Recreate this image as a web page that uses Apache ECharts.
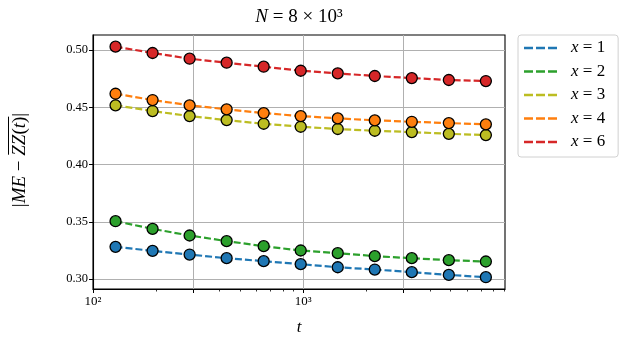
<!DOCTYPE html>
<html>
<head>
<meta charset="utf-8">
<script src="https://cdn.jsdelivr.net/npm/echarts@6/dist/echarts.min.js"></script>
<style>
  html, body { margin: 0; padding: 0; background: #fff; }
  #chart { width: 630px; height: 346px; }
</style>
</head>
<body>
<div id="chart"></div>
<script>
// t values (log x axis)
const tValues = [128, 192, 288, 432, 648, 972, 1458, 2187, 3280, 4920, 7381]

const seriesNames = ['1', '2', '3', '4', '6']
const seriesColors = ['#1f77b4', '#2ca02c', '#bcbd22', '#ff7f0e', '#d62728']

const x1 = [0.3281, 0.3246, 0.3214, 0.3182, 0.3156, 0.3130, 0.3103, 0.3083, 0.3060, 0.3036, 0.3016]
const x2 = [0.3505, 0.3438, 0.3380, 0.3331, 0.3287, 0.3249, 0.3226, 0.3200, 0.3182, 0.3165, 0.3153]
const x3 = [0.4517, 0.4467, 0.4423, 0.4388, 0.4356, 0.4330, 0.4310, 0.4295, 0.4283, 0.4268, 0.4257]
const x4 = [0.4618, 0.4563, 0.4517, 0.4482, 0.4449, 0.4423, 0.4403, 0.4386, 0.4373, 0.4362, 0.4351]
const x6 = [0.5029, 0.4974, 0.4924, 0.4889, 0.4854, 0.4819, 0.4796, 0.4773, 0.4755, 0.4738, 0.4729]
const allValues = [x1, x2, x3, x4, x6]

// ticks
const yTicks = [0.30, 0.35, 0.40, 0.45, 0.50]
const xMajorTicks = [100, 300, 1000, 3000]
const xMinorTicks = [200, 400, 500, 600, 700, 800, 900, 2000, 4000, 5000, 6000, 7000, 8000, 9000]
const xLabelTicks = [100, 1000]
const supDigits = { 2: '²', 3: '³' }

const serif = '"Liberation Serif", "DejaVu Serif", serif'

const chart = echarts.init(document.getElementById('chart'), null, { renderer: 'canvas' })

// measure pieces of the y-axis label so the overline sits over ZZ(t)
const ctx = document.createElement('canvas').getContext('2d')
const fs = 19
const pieces = [
  { t: '|', it: false },
  { t: 'ME', it: true },
  { t: ' − ', it: false },
  { t: 'ZZ', it: true },
  { t: '(', it: false },
  { t: 't', it: true },
  { t: ')', it: false },
  { t: '|', it: false }
]
pieces.forEach(p => {
  ctx.font = (p.it ? 'italic ' : '') + fs + 'px ' + serif
  p.w = ctx.measureText(p.t).width
})
const totalW = pieces.reduce((s, p) => s + p.w, 0)
let cx = -totalW / 2
const labelChildren = []
let olStart = 0, olEnd = 0
pieces.forEach((p, i) => {
  if (i === 3) olStart = cx
  labelChildren.push({
    type: 'text',
    x: cx,
    y: 0,
    style: {
      text: p.t,
      font: (p.it ? 'italic ' : '') + fs + 'px ' + serif,
      fill: '#000',
      textAlign: 'left',
      textVerticalAlign: 'middle'
    }
  })
  cx += p.w
  if (i === 6) olEnd = cx
})
labelChildren.push({
  type: 'line',
  shape: { x1: olStart + 1, y1: -11.5, x2: olEnd, y2: -11.5 },
  style: { stroke: '#000', lineWidth: 1 }
})

const series = allValues.map((vals, i) => ({
  name: seriesNames[i],
  type: 'line',
  data: tValues.map((t, k) => [t, vals[k]]),
  symbol: 'circle',
  symbolSize: 11,
  lineStyle: { color: seriesColors[i], width: 2.2, type: [7, 3] },
  itemStyle: { color: seriesColors[i], borderColor: '#000', borderWidth: 1.3 },
  z: 3 + i
}))

const dashIcon = 'path://M0,0h9v2.5h-9z M12,0h9v2.5h-9z M24,0h9v2.5h-9z'

chart.setOption({
  animation: false,
  grid: {
    left: 93, right: 125, top: 35, bottom: 57,
    show: true, borderColor: '#000', borderWidth: 1.1, backgroundColor: 'transparent'
  },
  graphic: [
    {
      type: 'text',
      x: 299, y: 17,
      style: {
        text: '{i|N} = 8 × 10³',
        font: '19px ' + serif,
        fill: '#000',
        textAlign: 'center',
        textVerticalAlign: 'middle',
        rich: {
          i: { fontFamily: serif, fontStyle: 'italic', fontSize: 19 }
        }
      }
    },
    {
      type: 'group',
      x: 20, y: 160,
      rotation: Math.PI / 2,
      children: labelChildren
    }
  ],
  legend: {
    orient: 'vertical',
    left: 518, top: 35,
    data: seriesNames.map((n, i) => ({
      name: n, icon: dashIcon,
      itemStyle: { color: seriesColors[i], borderWidth: 0, borderColor: seriesColors[i] }
    })),
    itemWidth: 33, itemHeight: 2.5,
    itemGap: 5.5,
    padding: [4, 13, 6, 6],
    borderColor: '#d0d0d0', borderWidth: 1, borderRadius: 3,
    formatter: n => '{i|x} = ' + n,
    textStyle: {
      fontFamily: serif, fontSize: 17, color: '#000', padding: [0, 0, 0, 9], lineHeight: 18,
      rich: { i: { fontFamily: serif, fontStyle: 'italic', fontSize: 17, lineHeight: 18 } }
    }
  },
  xAxis: [
    {
      type: 'log', logBase: 10, min: 100, max: 9100,
      name: 't', nameLocation: 'middle', nameGap: 30,
      nameTextStyle: { fontFamily: serif, fontStyle: 'italic', fontSize: 17, color: '#000' },
      axisLine: { show: true, lineStyle: { color: '#000', width: 1.1 } },
      axisTick: { show: true, length: 4, customValues: xMajorTicks, lineStyle: { color: '#000', width: 1 } },
      axisLabel: {
        customValues: xLabelTicks, margin: 6,
        fontFamily: serif, fontSize: 13, color: '#000',
        formatter: v => '10' + supDigits[Math.round(Math.log10(v))]
      },
      splitLine: { show: true, lineStyle: { color: '#b0b0b0', width: 1 } },
      minorTick: { show: false }
    },
    {
      type: 'log', logBase: 10, min: 100, max: 9100, position: 'bottom',
      axisLine: { show: false },
      axisTick: { show: true, length: 2.5, customValues: xMinorTicks, lineStyle: { color: '#000', width: 0.8 } },
      axisLabel: { show: false },
      splitLine: { show: false }
    }
  ],
  yAxis: {
    type: 'value', min: 0.2913, max: 0.5131,
    axisLine: { show: true, lineStyle: { color: '#000', width: 1.1 } },
    axisTick: { show: true, length: 4, customValues: yTicks, lineStyle: { color: '#000', width: 1 } },
    axisLabel: {
      customValues: yTicks, margin: 5,
      fontFamily: serif, fontSize: 12.5, color: '#000',
      formatter: v => v.toFixed(2)
    },
    splitLine: { show: true, lineStyle: { color: '#b0b0b0', width: 1 } }
  },
  series: series
})
</script>
</body>
</html>
